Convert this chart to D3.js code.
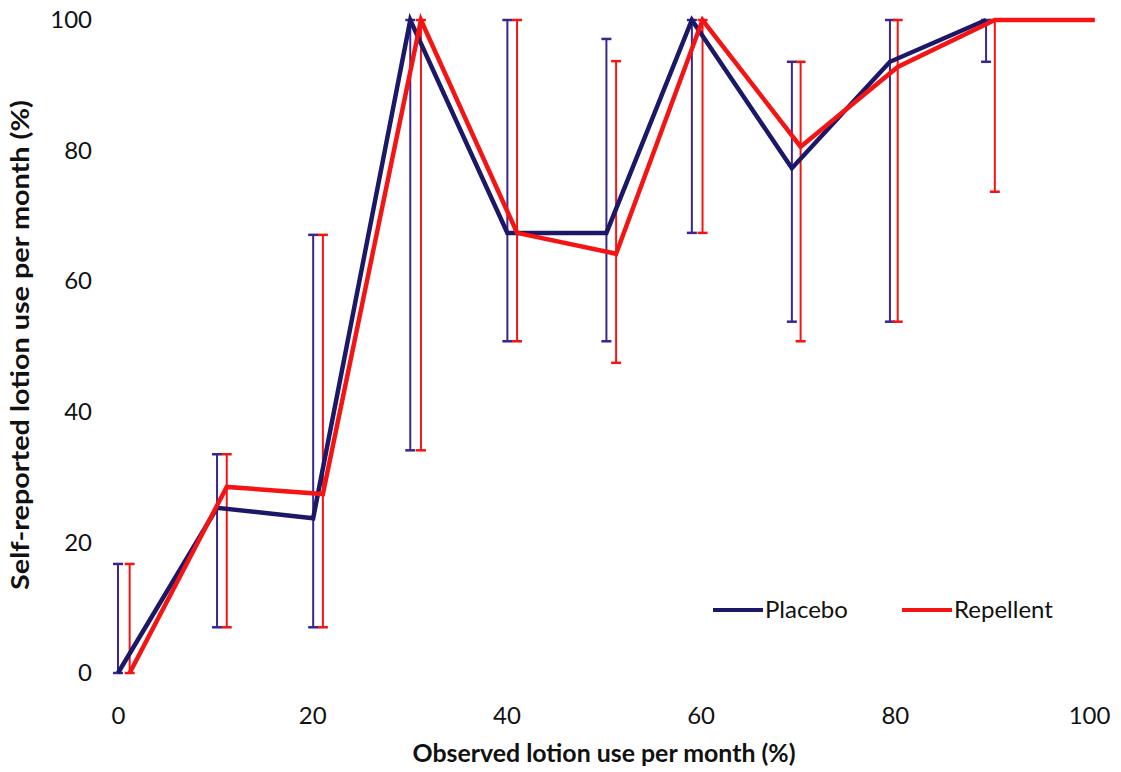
<!DOCTYPE html>
<html><head><meta charset="utf-8">
<script src="https://cdn.jsdelivr.net/npm/d3@7"></script>
<style>
body{margin:0;background:#fff;}
text{font-family:Lato,"Open Sans",sans-serif;fill:#111;}
</style></head><body>
<svg id="c" width="1121" height="772"></svg>
<script>
const xTicks = [0, 20, 40, 60, 80, 100];
const yTicks = [0, 20, 40, 60, 80, 100];
const seriesNames = ["Placebo", "Repellent"];
// Placebo
const placeboX   = [0, 10.2, 20.1, 30.1, 40.1, 50.3, 59.1, 69.4, 79.5, 89.4];
const placeboY   = [0, 25.3, 23.7, 100, 67.4, 67.4, 100, 77.3, 93.6, 100];
const placeboHi  = [16.7, 33.5, 67.1, 100, 100, 97.1, 100, 93.6, 100, 100];
const placeboLo  = [0, 7.0, 7.0, 34.1, 50.8, 50.8, 67.4, 53.8, 53.8, 93.6];
// Repellent
const repellentX  = [1.2, 11.2, 21.1, 31.2, 41.1, 51.3, 60.2, 70.3, 80.3, 90.3, 100.6];
const repellentY  = [0, 28.5, 27.4, 100, 67.4, 64.2, 100, 80.6, 92.8, 100, 100];
const repellentHi = [16.7, 33.5, 67.1, 100, 100, 93.7, 100, 93.6, 100, 100, null];
const repellentLo = [0, 7.0, 7.0, 34.1, 50.8, 47.5, 67.4, 50.8, 53.8, 73.7, null];

const colors = {Placebo: "#1c1868", Repellent: "#f41414"};
const errColors = {Placebo: "#3b2590", Repellent: "#f41414"};

const svg = d3.select("#c");
const x = d3.scaleLinear().domain([0, 100]).range([118, 1089]);
const y = d3.scaleLinear().domain([0, 100]).range([673, 20]);

// axes (no lines, labels only)
const xAxis = svg.append("g").attr("transform", "translate(0,673)")
  .call(d3.axisBottom(x).tickValues(xTicks).tickSize(0).tickPadding(34));
xAxis.select(".domain").remove();
xAxis.selectAll("text").style("font-size", "24px").attr("fill", "#111");

const yAxis = svg.append("g").attr("transform", "translate(118,0)")
  .call(d3.axisLeft(y).tickValues(yTicks).tickSize(0).tickPadding(26));
yAxis.select(".domain").remove();
yAxis.selectAll("text").style("font-size", "24px").attr("fill", "#111");

// axis titles
svg.append("text").attr("x", 604).attr("y", 762).attr("text-anchor", "middle")
  .style("font-size", "24px").style("font-weight", "bold")
  .attr("textLength", 383).attr("lengthAdjust", "spacingAndGlyphs")
  .text("Observed lotion use per month (%)");
svg.append("text").attr("transform", "translate(29,345) rotate(-90)").attr("text-anchor", "middle")
  .style("font-size", "24px").style("font-weight", "bold")
  .attr("textLength", 490).attr("lengthAdjust", "spacingAndGlyphs")
  .text("Self-reported lotion use per month (%)");

function drawSeries(name, xs, ys, his, los) {
  const g = svg.append("g");
  const data = xs.map((d, i) => ({x: d, y: ys[i], hi: his[i], lo: los[i]}));
  const eb = data.filter(d => d.hi !== null);
  g.selectAll("line.eb").data(eb).join("line")
    .attr("x1", d => x(d.x)).attr("x2", d => x(d.x))
    .attr("y1", d => y(d.hi)).attr("y2", d => y(d.lo))
    .attr("stroke", errColors[name]).attr("stroke-width", 2);
  g.selectAll("line.capH").data(eb).join("line")
    .attr("x1", d => x(d.x) - 5).attr("x2", d => x(d.x) + 5)
    .attr("y1", d => y(d.hi)).attr("y2", d => y(d.hi))
    .attr("stroke", errColors[name]).attr("stroke-width", 2.5);
  g.selectAll("line.capL").data(eb).join("line")
    .attr("x1", d => x(d.x) - 5).attr("x2", d => x(d.x) + 5)
    .attr("y1", d => y(d.lo)).attr("y2", d => y(d.lo))
    .attr("stroke", errColors[name]).attr("stroke-width", 2.5);
  return {g, data};
}
const p = drawSeries("Placebo", placeboX, placeboY, placeboHi, placeboLo);
const r = drawSeries("Repellent", repellentX, repellentY, repellentHi, repellentLo);
const line = d3.line().x(d => x(d.x)).y(d => y(d.y));
svg.append("path").datum(p.data).attr("d", line).attr("fill", "none")
  .attr("stroke", colors.Placebo).attr("stroke-width", 4.5).attr("stroke-linejoin", "miter");
svg.append("path").datum(r.data).attr("d", line).attr("fill", "none")
  .attr("stroke", colors.Repellent).attr("stroke-width", 4.5).attr("stroke-linejoin", "miter");

// legend
const legX = [713, 902];
seriesNames.forEach((n, i) => {
  svg.append("line").attr("x1", legX[i]).attr("x2", legX[i] + 50).attr("y1", 610).attr("y2", 610)
    .attr("stroke", colors[n]).attr("stroke-width", 4);
  svg.append("text").attr("x", legX[i] + 52).attr("y", 618).style("font-size", "24px").text(n);
});
</script></body></html>
